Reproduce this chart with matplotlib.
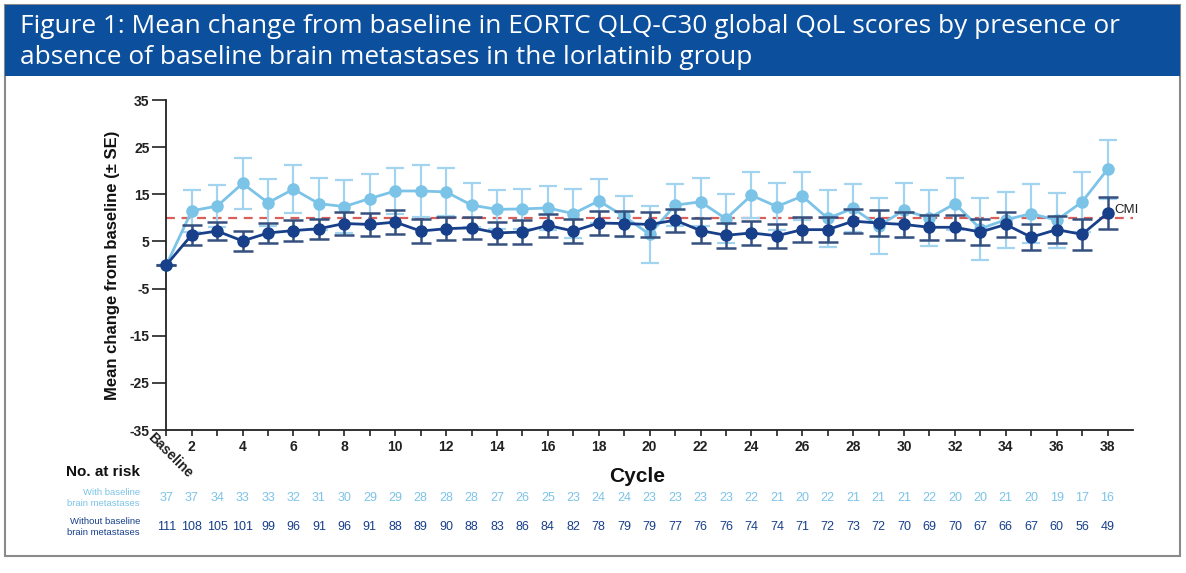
import matplotlib
matplotlib.use("Agg")
import matplotlib.pyplot as plt
from matplotlib.patches import Rectangle
import numpy as np

# ---------------- data ----------------
cycles = list(range(1, 39))  # 1 = Baseline
with_mets_mean = [0, 11.5, 12.5, 17.3, 13.2, 16.1, 13.0, 12.4, 14.1, 15.7, 15.7, 15.5, 12.7,
                  11.8, 11.9, 12.1, 10.9, 13.6, 10.3, 6.5, 12.7, 13.4, 9.8, 14.8, 12.4, 14.6,
                  9.9, 12.0, 8.3, 11.6, 10.0, 13.0, 7.7, 9.6, 10.9, 9.5, 13.4, 20.3]
with_mets_se = [0, 4.4, 4.4, 5.4, 5.0, 5.1, 5.5, 5.6, 5.3, 4.9, 5.5, 5.0, 4.7,
                4.1, 4.2, 4.6, 5.2, 4.6, 4.3, 6.0, 4.4, 5.1, 5.2, 4.9, 5.0, 5.1,
                6.0, 5.1, 6.0, 5.8, 5.9, 5.5, 6.6, 5.9, 6.2, 5.8, 6.3, 6.2]
without_mets_mean = [0, 6.4, 7.2, 5.1, 6.8, 7.3, 7.7, 8.8, 8.6, 9.1, 7.2, 7.7, 7.9,
                     6.8, 7.0, 8.4, 7.2, 8.9, 8.8, 8.6, 9.5, 7.3, 6.3, 6.8, 6.2, 7.5,
                     7.5, 9.3, 8.9, 8.6, 8.0, 8.0, 7.0, 8.6, 5.9, 7.5, 6.5, 11.0]
without_mets_se = [0, 2.1, 2.0, 2.1, 2.2, 2.3, 2.1, 2.4, 2.5, 2.6, 2.5, 2.5, 2.3,
                   2.4, 2.5, 2.4, 2.5, 2.5, 2.6, 2.6, 2.4, 2.6, 2.6, 2.6, 2.6, 2.6,
                   2.6, 2.5, 2.7, 2.6, 2.7, 2.6, 2.8, 2.7, 2.8, 2.9, 3.3, 3.4]
at_risk_with = [37, 37, 34, 33, 33, 32, 31, 30, 29, 29, 28, 28, 28, 27, 26, 25, 23, 24, 24,
                23, 23, 23, 23, 22, 21, 20, 22, 21, 21, 21, 22, 20, 20, 21, 20, 19, 17, 16]
at_risk_without = [111, 108, 105, 101, 99, 96, 91, 96, 91, 88, 89, 90, 88, 83, 86, 84, 82, 78,
                   79, 79, 77, 76, 76, 74, 74, 71, 72, 73, 72, 70, 69, 70, 67, 66, 67, 60, 56, 49]
cmi_value = 10
y_ticks = [35, 25, 15, 5, -5, -15, -25, -35]
x_ticks_labeled = list(range(2, 39, 2))

title_text = ("Figure 1: Mean change from baseline in EORTC QLQ-C30 global QoL scores by presence or\n"
              "absence of baseline brain metastases in the lorlatinib group")

# ---------------- style ----------------
LIGHT = "#7cc3e8"
LIGHT_ERR = "#a3d4ef"
DARK = "#173f8a"
DARK_ERR = "#35507e"
BANNER = "#0b4f9d"
FONT = "Liberation Sans"

W, H = 1186, 573
fig = plt.figure(figsize=(W / 100, H / 100), dpi=100)

def fig_y(py):
    return 1 - py / H

# outer frame and banner
fig.patches.append(Rectangle((5 / W, 1 - 556 / H), 1175 / W, 551 / H, transform=fig.transFigure,
                             facecolor="none", edgecolor="#8a8a8a", lw=1.5, zorder=-5))
fig.patches.append(Rectangle((5 / W, 1 - 76 / H), 1175 / W, 71 / H, transform=fig.transFigure,
                             facecolor=BANNER, edgecolor=BANNER, lw=0, zorder=-4))
fig.text(20 / W, fig_y(42), title_text, color="white", fontsize=18.9, family="Open Sans",
         ha="left", va="center", linespacing=1.28)

left, right = 166.3 / W, 1133 / W
top, bottom = 1 - 100 / H, 1 - 430 / H
ax = fig.add_axes([left, bottom, right - left, top - bottom])
ax.patch.set_alpha(0)
ax.set_xlim(1, 39)
ax.set_ylim(-35, 35)

# CMI line
ax.axhline(cmi_value, color="#d9605a", lw=1.6, ls=(0, (4, 3)), zorder=1)

ax.errorbar(cycles, with_mets_mean, yerr=with_mets_se, color=LIGHT, ecolor=LIGHT_ERR,
            elinewidth=1.6, capsize=6.5, capthick=1.6, marker="o", ms=8, lw=2, zorder=2,
            clip_on=False)
ax.errorbar(cycles, without_mets_mean, yerr=without_mets_se, color=DARK, ecolor=DARK_ERR,
            elinewidth=1.8, capsize=7, capthick=1.8, marker="o", ms=8, lw=2, zorder=3,
            clip_on=False)

ax.text(38.25, 10.4, "CMI", fontsize=9.5, family=FONT, color="#222222",
        ha="left", va="bottom")

for s in ["top", "right"]:
    ax.spines[s].set_visible(False)
for s in ["left", "bottom"]:
    ax.spines[s].set_linewidth(1.3)
    ax.spines[s].set_color("#222222")

ax.set_yticks(y_ticks)
ax.set_yticklabels([str(v) for v in y_ticks], fontsize=10, family=FONT,
                   fontweight="bold", color="#222222")
ax.set_xticks(x_ticks_labeled)
ax.set_xticklabels([str(v) for v in x_ticks_labeled], fontsize=10, family=FONT,
                   fontweight="bold", color="#222222")
ax.set_xticks(cycles, minor=True)
ax.tick_params(axis="both", which="both", direction="out", color="#222222", width=1.2)
ax.tick_params(axis="x", which="major", length=4, pad=3)
ax.tick_params(axis="x", which="minor", length=4)
ax.tick_params(axis="y", length=10, pad=2)

ax.text(0.35, -36.2, "Baseline", rotation=-45, rotation_mode="anchor", ha="left", va="center",
        fontsize=10, family=FONT, fontweight="bold", color="#222222", clip_on=False)

ax.set_ylabel("Mean change from baseline (\u00b1 SE)", fontsize=12, family=FONT,
              fontweight="bold", color="#111111", labelpad=7)

xc = fig.transFigure.inverted().transform(ax.transData.transform((19.5, 0)))[0]
fig.text(xc, fig_y(476), "Cycle", fontsize=15, family=FONT, fontweight="bold",
         ha="center", va="center", color="#111111")

# at-risk table
fig.text(140 / W, fig_y(472), "No. at risk", fontsize=11, family=FONT,
         fontweight="bold", ha="right", va="center", color="#111111")
fig.text(140 / W, fig_y(498), "With baseline\nbrain metastases", fontsize=6.8,
         family=FONT, ha="right", va="center", color=LIGHT, linespacing=1.3)
fig.text(140 / W, fig_y(527), "Without baseline\nbrain metastases", fontsize=6.8,
         family=FONT, ha="right", va="center", color=DARK, linespacing=1.3)

for c, nw, nwo in zip(cycles, at_risk_with, at_risk_without):
    xf = fig.transFigure.inverted().transform(ax.transData.transform((c, 0)))[0]
    fig.text(xf, fig_y(498), str(nw), fontsize=9, family=FONT,
             ha="center", va="center", color=LIGHT)
    fig.text(xf, fig_y(527), str(nwo), fontsize=9, family=FONT,
             ha="center", va="center", color=DARK)

fig.savefig("out.png", dpi=100)
